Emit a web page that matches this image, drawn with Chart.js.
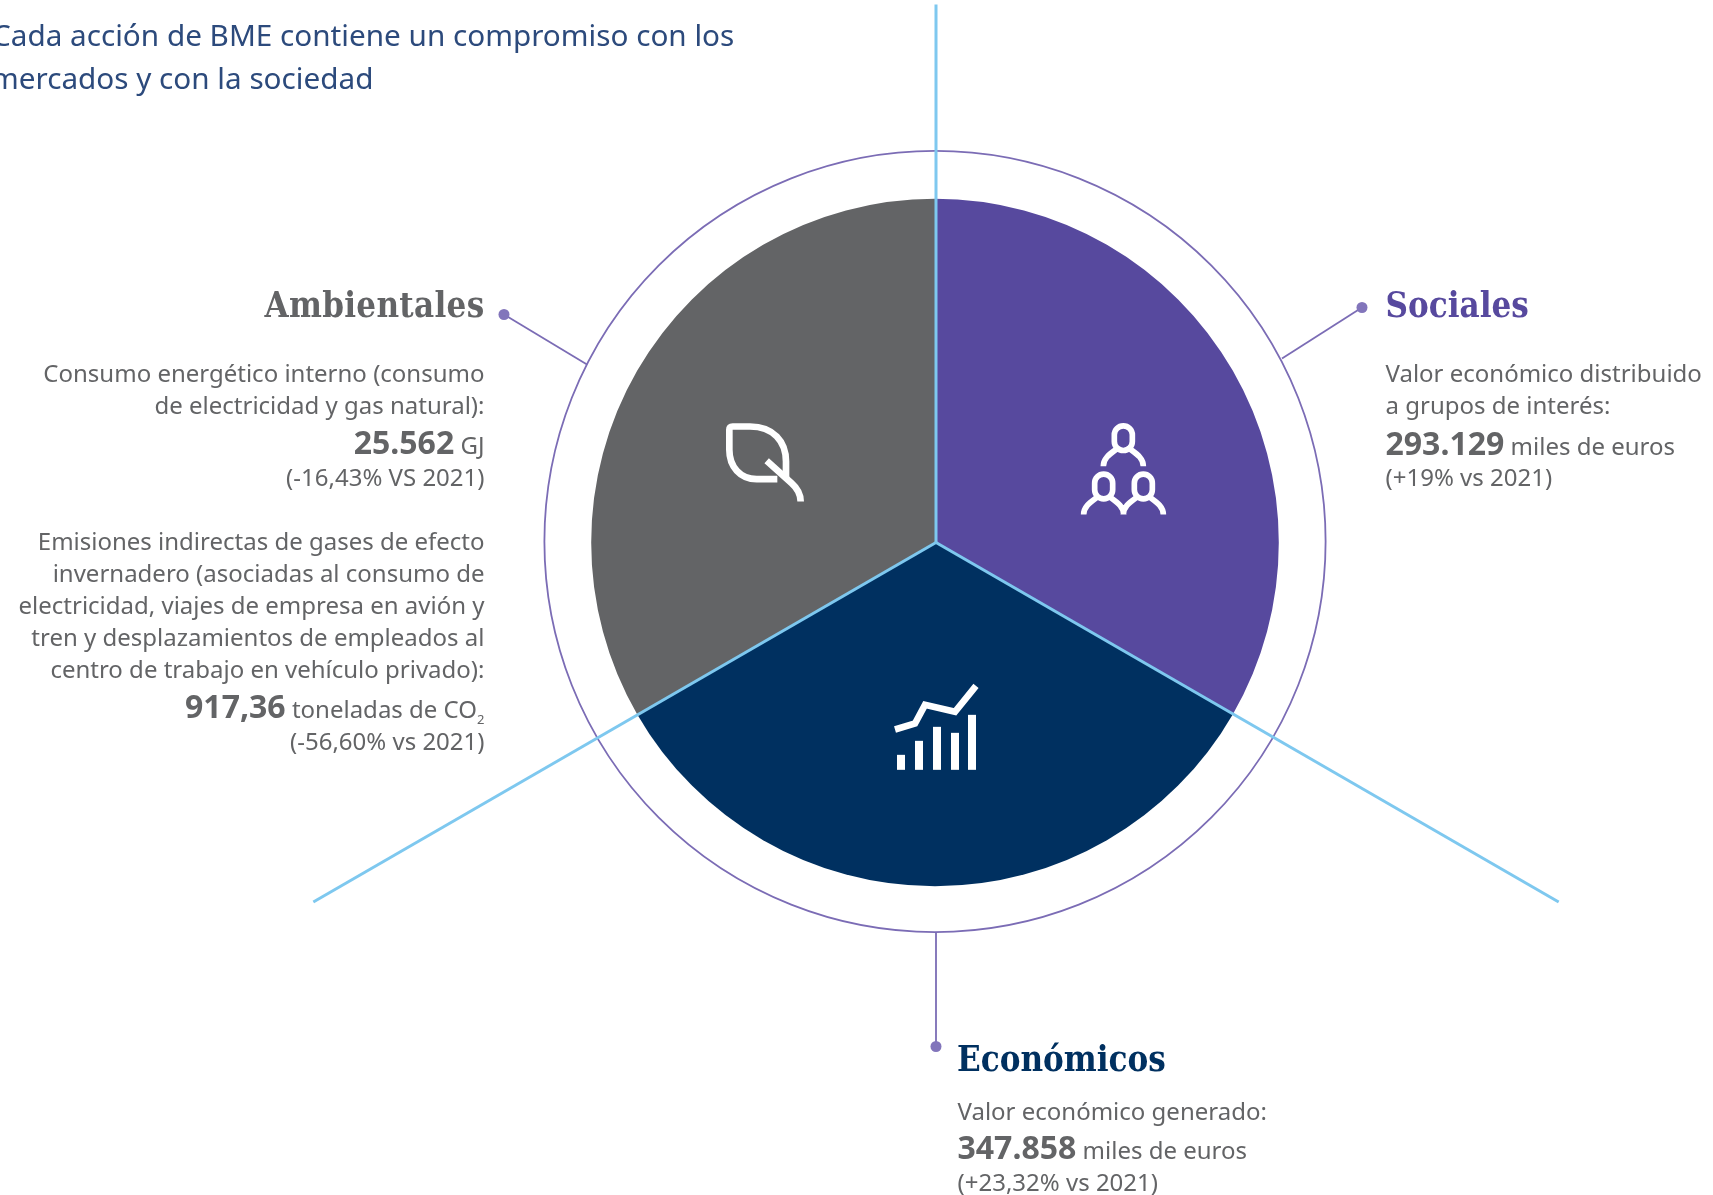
<!DOCTYPE html>
<html lang="es">
<head>
<meta charset="utf-8">
<title>Cada acción de BME</title>
<script src="https://cdn.jsdelivr.net/npm/chart.js@4"></script>
<style>
    html, body { margin: 0; padding: 0; background: #fff; }
    body { position: relative; width: 1713px; height: 1195px; overflow: hidden; font-family: 'Noto Sans', sans-serif; color: #636466; }
    #chartBox { position: absolute; left: 135px; top: 0; width: 1600px; height: 1085px; }
    .line { position: absolute; white-space: nowrap; font-size: 24px; line-height: 32px; }
    .r { right: 1228.5px; text-align: right; }
    .title { font-family: 'DejaVu Serif Condensed', 'DejaVu Serif', serif; font-weight: bold; font-size: 34.6px; line-height: 44px; }
    .lead { color: #2c4a7c; font-size: 29.7px; line-height: 40px; }
    b { font-size: 32px; }
    sub { font-size: 13px; line-height: 0; }
</style>
</head>
<body>
<div id="chartBox"><canvas id="pieChart"></canvas></div>

<div class="line lead" style="left: -8px; top: 15px">Cada acción de BME contiene un compromiso con los</div>
<div class="line lead" style="left: -9px; top: 58px">mercados y con la sociedad</div>

<div class="line r title" style="top: 283px; letter-spacing: 0.3px">Ambientales</div>
<div class="line r" style="top: 357px">Consumo energético interno (consumo</div>
<div class="line r" style="top: 389px">de electricidad y gas natural):</div>
<div class="line r" style="top: 426px"><b>25.562</b> GJ</div>
<div class="line r" style="top: 461px">(-16,43% VS 2021)</div>
<div class="line r" style="top: 525px">Emisiones indirectas de gases de efecto</div>
<div class="line r" style="top: 557px">invernadero (asociadas al consumo de</div>
<div class="line r" style="top: 589px">electricidad, viajes de empresa en avión y</div>
<div class="line r" style="top: 621px">tren y desplazamientos de empleados al</div>
<div class="line r" style="top: 653px">centro de trabajo en vehículo privado):</div>
<div class="line r" style="top: 690px"><b>917,36</b> toneladas de CO<sub>2</sub></div>
<div class="line r" style="top: 725px">(-56,60% vs 2021)</div>

<div class="line title" style="left: 1385.5px; top: 283px; color: #57499e">Sociales</div>
<div class="line" style="left: 1385.5px; top: 357px">Valor económico distribuido</div>
<div class="line" style="left: 1385.5px; top: 389px">a grupos de interés:</div>
<div class="line" style="left: 1385.5px; top: 427px"><b>293.129</b> miles de euros</div>
<div class="line" style="left: 1385.5px; top: 461px">(+19% vs 2021)</div>

<div class="line title" style="left: 957px; top: 1037px; color: #003060">Económicos</div>
<div class="line" style="left: 957.5px; top: 1095px">Valor económico generado:</div>
<div class="line" style="left: 957.5px; top: 1131px"><b>347.858</b> miles de euros</div>
<div class="line" style="left: 957.5px; top: 1166px">(+23,32% vs 2021)</div>

<script>
// three equal parts, clockwise from the top
const sliceLabels = ['Sociales', 'Económicos', 'Ambientales'];
const sliceValues = [1, 1, 1];
const sliceColors = ['#57499e', '#003060', '#636466'];

const PIE_RADIUS = 343.8;
const RING_RADIUS = 390.6;

// path strings are relative to the ray origin, 3 units = 1px
const personPath = (x, y) =>
    `M${x} ${y - 37}c-15 0-27 12-27 27v20c0 15 12 27 27 27s27-12 27-27v-20c0-15-12-27-27-27z` +
    `M${x - 60} ${y + 84}c0-25 22-38 42-53M${x + 60} ${y + 84}c0-25-22-38-42-53`;

const iconStrokes = [
    // leaf
    { width: 20, d: 'M-476 -190L-538 -190C-588 -190 -620 -228 -620 -278L-620 -338Q-620 -348 -610 -348L-558 -348C-488 -348 -450 -303 -450 -243L-450 -193' },
    { width: 20, d: 'M-508 -245L-433 -178C-416 -163 -406 -148 -406 -123' },
    // people
    { width: 17, d: personPath(562, -313) + personPath(503, -168) + personPath(622, -168) },
    // trend line
    { width: 20, d: 'M-123 561L-63 543L-33 487L57 508L120 430' }
];
const iconBars = [
    'M-117 637h24v45h-24z', 'M-63 595h24v87h-24z', 'M-9 553h24v129h-24z', 'M45 571h24v111h-24z', 'M96 517h24v165h-24z'
];

const overlay = {
    id: 'overlay',
    afterDraw(chart) {
        const arc = chart.getDatasetMeta(0).data[0];
        // the rays and icons sit a pixel right of the pie in the original
        const cx = arc.x + 1, cy = arc.y;
        const ctx = chart.ctx;
        ctx.save();

        // ring sits a pixel higher than the pie
        ctx.strokeStyle = '#7b6cb5';
        ctx.lineWidth = 1.8;
        ctx.beginPath();
        ctx.arc(arc.x, cy - 1, RING_RADIUS, 0, Math.PI * 2);
        ctx.stroke();

        // leader lines, dx/dy from ray origin
        [[346, -184, 426, -235], [-349, -178, -432, -228], [0, RING_RADIUS - 1, 0, 504]].forEach(l => {
            ctx.beginPath();
            ctx.moveTo(cx + l[0], cy + l[1]);
            ctx.lineTo(cx + l[2], cy + l[3]);
            ctx.stroke();
            ctx.fillStyle = '#8275bb';
            ctx.beginPath();
            ctx.arc(cx + l[2], cy + l[3], 5.5, 0, Math.PI * 2);
            ctx.fill();
        });

        // blue rays along the slice borders
        ctx.strokeStyle = '#7ec8ef';
        ctx.lineWidth = 3;
        [[0, 538], [120, 719], [240, 719]].forEach(r => {
            const a = r[0] * Math.PI / 180;
            ctx.beginPath();
            ctx.moveTo(cx, cy);
            ctx.lineTo(cx + Math.sin(a) * r[1], cy - Math.cos(a) * r[1]);
            ctx.stroke();
        });

        // white icons
        ctx.translate(cx, cy);
        ctx.scale(1 / 3, 1 / 3);
        ctx.strokeStyle = '#fff';
        ctx.fillStyle = '#fff';
        iconStrokes.forEach(s => {
            ctx.lineWidth = s.width;
            ctx.stroke(new Path2D(s.d));
        });
        iconBars.forEach(d => ctx.fill(new Path2D(d)));
        ctx.restore();
    }
};

new Chart(document.getElementById('pieChart'), {
    type: 'pie',
    data: {
        labels: sliceLabels,
        datasets: [{ data: sliceValues, backgroundColor: sliceColors, borderWidth: 0 }]
    },
    options: {
        responsive: true,
        maintainAspectRatio: false,
        animation: false,
        radius: PIE_RADIUS,
        plugins: { legend: { display: false }, tooltip: { enabled: false } }
    },
    plugins: [overlay]
});
</script>
</body>
</html>
